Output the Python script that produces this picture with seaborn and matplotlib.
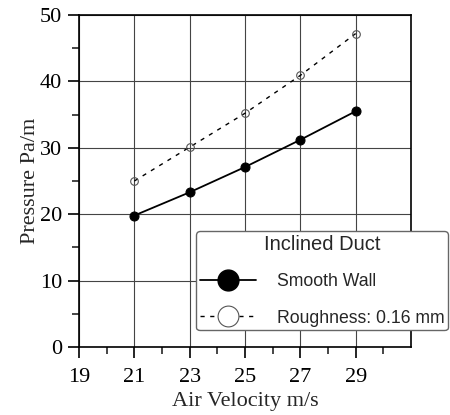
import matplotlib as mpl
mpl.use('Agg')
import matplotlib.pyplot as plt
from matplotlib.lines import Line2D
import pandas as pd
import seaborn as sns

# values
velocity = [21, 23, 25, 27, 29]
smooth_wall = [19.8, 23.3, 27.1, 31.2, 35.5]
roughness = [25.0, 30.1, 35.2, 40.9, 47.2]
series_names = ['Smooth Wall', 'Roughness: 0.16 mm']
legend_title = 'Inclined Duct'
x_major = [19, 21, 23, 25, 27, 29]
x_minor = [20, 22, 24, 26, 28, 30]
y_major = [0, 10, 20, 30, 40, 50]
y_minor = [5, 15, 25, 35, 45]

sns.set_style('ticks')
plt.rcParams['font.family'] = ['Liberation Serif', 'DejaVu Serif']

plot_df = pd.DataFrame({'Air Velocity m/s': velocity * 2,
                        'Pressure Pa/m': smooth_wall + roughness,
                        'series': [series_names[0]] * len(velocity)
                        + [series_names[1]] * len(velocity)})

fig = plt.figure(figsize=(4.5, 4.15), dpi=100)
ax = fig.add_axes([0.1756, 0.1639, 0.7377, 0.8])

ax.grid(True, which='major', color='#444444', linewidth=0.8)
ax.set_axisbelow(True)

sns.lineplot(data=plot_df[plot_df.series == series_names[0]],
             x='Air Velocity m/s', y='Pressure Pa/m', ax=ax,
             color='black', linewidth=1.3, marker='o', markersize=6.5,
             markerfacecolor='black', markeredgecolor='black', legend=False)
sns.lineplot(data=plot_df[plot_df.series == series_names[1]],
             x='Air Velocity m/s', y='Pressure Pa/m', ax=ax,
             color='black', linewidth=1.0, linestyle=(0, (3, 4)),
             marker='o', markersize=5.5, markerfacecolor='none',
             markeredgecolor='#555555', markeredgewidth=0.8, legend=False)

ax.set_xlim(19, 31)
ax.set_ylim(0, 50)
ax.set_xticks(x_major)
ax.set_xticks(x_minor, minor=True)
ax.set_yticks(y_major)
ax.set_yticks(y_minor, minor=True)
ax.tick_params(which='major', direction='out', length=8, width=1.2,
               labelsize=16, colors='black')
ax.tick_params(axis='x', which='major', pad=7)
ax.tick_params(axis='y', which='major', pad=4)
ax.tick_params(which='minor', direction='out', length=5, width=1.2)
for sp in ax.spines.values():
    sp.set_visible(True)
    sp.set_linewidth(1.2)
    sp.set_color('black')

ax.set_xlabel('Air Velocity m/s', fontsize=16, labelpad=4)
ax.set_ylabel('Pressure Pa/m', fontsize=16, labelpad=0)

handles = [
    Line2D([], [], color='black', linewidth=1.3, marker='o', markersize=15,
           markerfacecolor='black', markeredgecolor='black'),
    Line2D([], [], color='black', linewidth=1.0, linestyle=(0, (3, 4)),
           marker='o', markersize=15, markerfacecolor='white',
           markeredgecolor='#555555', markeredgewidth=0.8),
]
leg = ax.legend(handles, series_names, title=legend_title,
                loc='lower right', bbox_to_anchor=(1.111, 0.051),
                borderaxespad=0, frameon=True, fancybox=True,
                handlelength=3.2, handletextpad=1.15, labelspacing=1.1,
                borderpad=0.2,
                prop={'family': 'Liberation Sans', 'size': 12.7},
                title_fontproperties={'family': 'Liberation Sans',
                                      'size': 14.5})
leg.get_frame().set_edgecolor('#666666')
leg.get_frame().set_linewidth(1.0)
leg.get_frame().set_alpha(1.0)

fig.savefig('out.png', dpi=100)
plt.close()
